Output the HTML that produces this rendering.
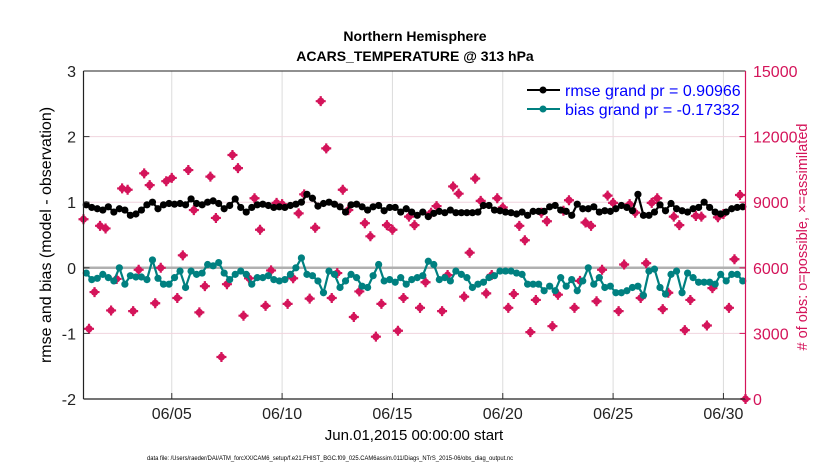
<!DOCTYPE html>
<html><head><meta charset="utf-8"><style>
body{margin:0;background:#fff;}
svg{display:block;font-family:"Liberation Sans",Arial,sans-serif;}
</style></head><body>
<svg id="chart" width="830" height="470" viewBox="0 0 830 470">
<rect width="830" height="470" fill="#fff"/>
<g id="grid"></g><g id="marks"></g><g id="axes"></g>
<text x="415" y="41" text-anchor="middle" font-size="14" font-weight="bold">Northern Hemisphere</text>
<text x="415" y="61" text-anchor="middle" font-size="14" font-weight="bold">ACARS_TEMPERATURE @ 313 hPa</text>
<text transform="translate(51,235) rotate(-90)" text-anchor="middle" font-size="16">rmse and bias (model - observation)</text>
<text transform="translate(807,237) rotate(-90)" text-anchor="middle" font-size="14.5" fill="#d4145a"># of obs: o=possible, ×=assimilated</text>
<text x="414" y="440" text-anchor="middle" font-size="15">Jun.01,2015 00:00:00 start</text>
<text x="330" y="460" text-anchor="middle" font-size="6" textLength="366" lengthAdjust="spacingAndGlyphs">data file: /Users/raeder/DAI/ATM_forcXX/CAM6_setup/f.e21.FHIST_BGC.f09_025.CAM6assim.011/Diags_NTrS_2015-06/obs_diag_output.nc</text>
<g>
<line x1="527" y1="90" x2="560" y2="90" stroke="#000" stroke-width="2"/><circle cx="543" cy="90" r="3.5" fill="#000"/>
<text x="565" y="96" font-size="16" fill="#0000ff">rmse grand pr = 0.90966</text>
<line x1="527" y1="109" x2="560" y2="109" stroke="#008080" stroke-width="2"/><circle cx="543" cy="109" r="3.5" fill="#008080"/>
<text x="565" y="115" font-size="16" fill="#0000ff">bias grand pr = -0.17332</text>
</g>
</svg>
<script>
const xTickLabels=["06/05","06/10","06/15","06/20","06/25","06/30"];
const xTickDays=[4,9,14,19,24,29];
const yTicks=[3,2,1,0,-1,-2];
const y2Ticks=[15000,12000,9000,6000,3000,0];
const rmse=[0.96,0.92,0.90,0.88,0.93,0.85,0.90,0.88,0.80,0.82,0.88,0.96,1.00,0.90,0.96,0.98,0.97,0.98,0.96,1.05,0.98,0.96,1.00,1.02,0.98,0.90,0.95,1.05,0.92,0.85,0.92,0.96,0.97,0.95,0.92,0.93,0.92,0.95,0.97,1.00,1.12,1.06,0.94,0.98,1.00,0.97,0.93,0.85,0.96,0.97,0.93,0.88,0.93,0.95,0.87,0.92,0.92,0.85,0.90,0.85,0.80,0.85,0.78,0.83,0.86,0.84,0.88,0.84,0.84,0.84,0.84,0.85,0.95,0.95,0.88,0.87,0.85,0.84,0.82,0.85,0.80,0.86,0.86,0.86,0.93,0.95,0.88,0.86,0.80,0.97,0.90,0.90,0.93,0.85,0.87,0.86,0.90,0.95,0.92,0.87,1.12,0.80,0.80,0.85,0.96,0.87,0.98,0.90,0.87,0.85,0.90,0.92,1.00,0.92,0.85,0.82,0.85,0.90,0.92,0.93];
const bias=[-0.08,-0.18,-0.16,-0.10,-0.15,-0.20,0.0,-0.25,-0.12,-0.14,-0.14,-0.18,0.12,-0.16,-0.25,-0.25,-0.15,-0.05,-0.30,-0.05,-0.10,-0.08,0.05,0.03,0.08,-0.08,-0.18,-0.10,-0.05,-0.10,-0.25,-0.15,-0.15,-0.12,-0.18,-0.20,-0.18,-0.10,0.0,0.15,-0.10,-0.12,-0.20,-0.38,-0.05,-0.10,-0.30,-0.20,-0.10,-0.15,-0.28,-0.30,-0.12,0.05,-0.20,-0.18,-0.22,-0.15,-0.25,-0.18,-0.15,-0.12,0.10,0.05,-0.18,-0.15,-0.20,-0.05,-0.10,-0.15,-0.30,-0.25,-0.22,-0.15,-0.12,-0.05,-0.05,-0.05,-0.08,-0.10,-0.25,-0.25,-0.25,-0.35,-0.28,-0.35,-0.15,-0.28,-0.18,-0.35,-0.20,0.0,-0.25,-0.15,-0.30,-0.28,-0.38,-0.38,-0.35,-0.30,-0.28,-0.42,-0.05,-0.02,-0.30,-0.40,-0.10,-0.05,-0.38,-0.08,-0.15,-0.22,-0.22,-0.22,-0.25,-0.10,-0.20,-0.10,-0.10,-0.20];
const obsCount=[8220,3210,4890,7920,7800,4050,5490,9630,9570,4020,5910,10320,9780,4380,6000,9960,10110,4620,6570,10470,8640,3960,5160,10170,8280,1920,5250,11160,10560,3810,5520,9180,7740,4260,5880,8970,8910,4350,5520,8490,9360,4590,7830,13620,11460,4620,5760,9570,8640,3750,4920,8040,7440,2850,4350,7950,7740,3120,4620,8340,7950,4170,5340,8520,8820,4020,5670,9720,9390,4680,6690,10080,9060,4830,5670,9180,8760,4170,4800,7920,7260,3060,4530,8520,8130,3330,4770,8610,9090,4170,5400,8070,7920,4470,5910,9300,8970,4020,6150,8910,8520,4620,6210,8970,9180,4110,4860,8340,7950,3150,4530,8370,8340,3360,5070,8310,8460,4170,6390,9330,0];
const L=83.5,R=745.5,T=71,B=399;
const xS=d=>L+(d/30)*(R-L);
const yS=v=>T+(3-v)/5*(B-T);
const y2S=c=>B-(c/15000)*(B-T);
const NS='http://www.w3.org/2000/svg';
function mk(tag,attrs,parent){const e=document.createElementNS(NS,tag);for(const k in attrs)e.setAttribute(k,attrs[k]);parent.appendChild(e);return e;}
const grid=document.getElementById('grid'),marks=document.getElementById('marks'),axes=document.getElementById('axes');
xTickDays.forEach((d,i)=>{
 const g=mk('line',{x1:xS(d),x2:xS(d),y1:T,y2:B,stroke:'#dcdcdc','stroke-width':1},grid);
 
 
 mk('line',{x1:xS(d),x2:xS(d),y1:B,y2:B-6,stroke:'#333','stroke-width':1},axes);
 const t=mk('text',{x:xS(d),y:419,'text-anchor':'middle','font-size':16,fill:'#222'},axes);
 t.textContent=xTickLabels[i];
 
 
});
yTicks.forEach(v=>{
 if(v!==3&&v!==-2&&v!==0){const g=mk('line',{x1:L,x2:R,y1:yS(v),y2:yS(v),stroke:'#f0d4de','stroke-width':1},grid);
 
 }
 mk('line',{x1:L,x2:L+6,y1:yS(v),y2:yS(v),stroke:'#333'},axes);
 const t=mk('text',{x:76,y:yS(v)+6,'text-anchor':'end','font-size':16,fill:'#222'},axes);
 t.textContent=v;
 
 
});
y2Ticks.forEach(c=>{
 mk('line',{x1:R,x2:R-6,y1:y2S(c),y2:y2S(c),stroke:'#d4145a'},axes);
 const t=mk('text',{x:753,y:y2S(c)+6,'font-size':16,fill:'#d4145a'},axes);
 t.textContent=c;
 
 
});
const zl=mk('line',{x1:L,x2:R,y1:yS(0),y2:yS(0),stroke:'#b0b0b0','stroke-width':2.5},grid);


obsCount.forEach((c,i)=>{
 const x=xS(i*0.25),y=y2S(c);
 const g=mk('g',{},marks);
 
 
 mk('circle',{cx:x,cy:y,r:3.6,fill:'#d4145a'},g);
 mk('path',{d:`M${x-5},${y}H${x+5}M${x},${y-5}V${y+5}`,stroke:'#d4145a','stroke-width':2.2},g);
});
function series(vals,color,name){
 const pts=vals.map((v,i)=>[xS(0.125+i*0.25),yS(v)]);
 const p=mk('polyline',{points:pts.map(p=>p.join(',')).join(' '),fill:'none',stroke:color,'stroke-width':2.2,'stroke-linejoin':'round'},marks);
 
 
 pts.forEach(q=>{const c=mk('circle',{cx:q[0],cy:q[1],r:3.6,fill:color},marks);
 
 });
}
series(rmse,'#000','rmse');
series(bias,'#008080','bias');
mk('line',{x1:L,x2:L,y1:T,y2:B,stroke:'#222','stroke-width':1.2},axes);
mk('line',{x1:L,x2:R,y1:B,y2:B,stroke:'#222','stroke-width':1.2},axes);
mk('line',{x1:L,x2:R,y1:T,y2:T,stroke:'#222','stroke-width':1},axes);
mk('line',{x1:R,x2:R,y1:T,y2:B,stroke:'#d4145a','stroke-width':1.2},axes);
</script>
</body></html>
